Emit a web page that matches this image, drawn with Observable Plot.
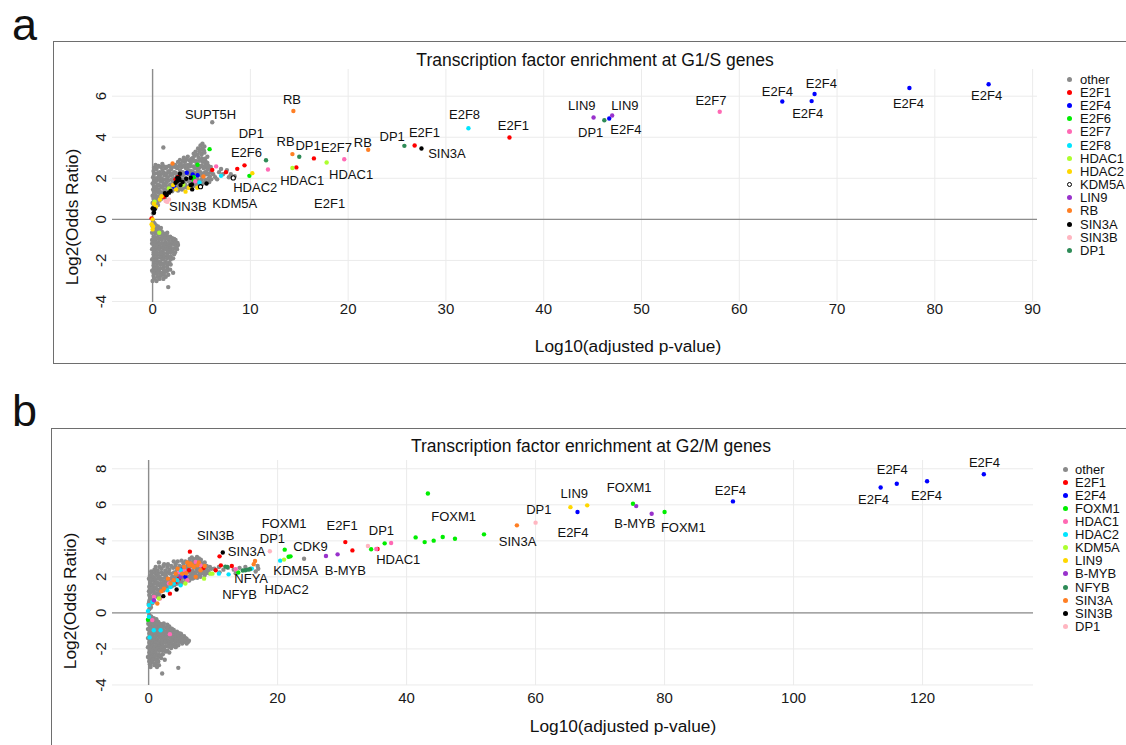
<!DOCTYPE html>
<html><head><meta charset="utf-8">
<script src="https://cdn.jsdelivr.net/npm/d3@7"></script>
<script src="https://cdn.jsdelivr.net/npm/@observablehq/plot@0.6"></script>
<style>
body{margin:0;background:#fff;font-family:"Liberation Sans",Arial,sans-serif;color:#111;}
#root{position:relative;width:1126px;height:745px;overflow:hidden;background:#fff;}
.frame{position:absolute;border:1.5px solid #6e6e6e;}
.plot{position:absolute;}
.letter{position:absolute;font-size:45px;line-height:1.1;}
.title{position:absolute;font-size:17.5px;transform:translate(-50%,-50%);white-space:nowrap;}
.xtitle{position:absolute;font-size:17.3px;transform:translate(-50%,-50%);white-space:nowrap;}
.ytitle{position:absolute;font-size:17.3px;transform:translate(-50%,-50%) rotate(-90deg);white-space:nowrap;}
.legend{position:absolute;font-size:13px;}
.legend .row{display:flex;align-items:center;white-space:nowrap;}
.legend .dot{width:5px;height:5px;border-radius:50%;box-sizing:border-box;flex:none;}
</style></head>
<body><div id="root"></div>
<script>
// ---------- Panel a (G1/S) data ----------
const namesA = ["other","E2F1","E2F4","E2F6","E2F7","E2F8","HDAC1","HDAC2","KDM5A","LIN9","RB","SIN3A","SIN3B","DP1"];
const colorsA = ["#8a8a8a","#ff0000","#0000ff","#00ee00","#ff69b4","#00e5ff","#adff2f","#ffd700","open","#9932cc","#ff7f24","#000000","#ffb6c1","#2e8b57"];
const otherA = [
 [0.05,0.3],[0.15,0.45],[0.3,0.55],[0.1,0.6],[0.4,0.7],[0.25,0.65],[0.55,0.7],
 [0.0,0.8],[0.2,0.75],[0.45,0.85],[0.7,0.92],[0.1,1.0],[0.35,1.0],[0.9,1.0],[0.25,0.9],[0.55,1.0],[0.2,1.05],[0.65,1.05],[1.25,1.05],
 [0.0,1.15],[0.25,1.2],[0.5,1.1],[0.8,1.18],[1.1,1.15],[1.4,1.22],[0.6,1.3],[1.0,1.3],[1.7,1.3],
 [0.15,1.35],[0.45,1.38],[0.75,1.35],[1.35,1.38],[2.0,1.37],[2.6,1.4],[3.0,1.45],
 [0.05,1.45],[0.3,1.5],[0.6,1.45],[0.9,1.55],[1.2,1.45],[1.5,1.5],[1.9,1.42],[2.3,1.48],[2.7,1.5],[3.1,1.52],[3.5,1.55],[4.0,1.58],[4.4,1.62],
 [0.15,1.62],[0.45,1.6],[0.75,1.65],[1.05,1.6],[1.35,1.65],[1.65,1.62],[2.0,1.58],[2.3,1.65],[2.65,1.6],[3.0,1.65],[3.4,1.62],[3.8,1.68],[4.2,1.68],[4.7,1.68],[5.1,1.72],
 [0.0,1.75],[0.25,1.8],[0.55,1.7],[0.85,1.85],[1.15,1.75],[1.45,1.82],[1.8,1.7],[2.1,1.85],[2.5,1.75],[2.9,1.8],[3.3,1.72],[3.7,1.85],[4.1,1.8],[4.5,1.75],[4.9,1.85],[5.3,1.8],[5.8,1.82],
 [0.15,1.92],[0.45,1.9],[0.75,1.95],[1.05,1.9],[1.35,1.95],[1.65,1.9],[1.95,1.95],[2.3,1.92],[2.65,1.9],[3.0,1.95],[3.4,1.92],[3.8,1.95],[4.2,1.9],[4.6,1.92],[5.0,1.95],[5.4,1.92],[5.7,1.98],[6.0,1.95],
 [0.05,2.05],[0.35,2.0],[0.65,2.1],[0.95,2.0],[1.25,2.15],[1.55,2.05],[1.85,2.15],[2.15,2.0],[2.45,2.2],[2.75,2.05],[3.05,2.15],[3.35,2.0],[3.65,2.2],[3.95,2.1],[4.25,2.2],[4.55,2.0],[4.85,2.15],[5.15,2.05],[5.5,2.2],[5.85,2.1],[6.2,2.2],
 [0.2,2.22],[0.5,2.25],[0.85,2.2],[1.15,2.28],[1.45,2.22],[1.75,2.28],[2.05,2.2],[2.35,2.27],[2.65,2.22],[2.95,2.27],[3.25,2.22],[3.55,2.3],[3.85,2.25],[4.15,2.3],[4.45,2.25],[4.75,2.28],[5.05,2.22],[5.35,2.28],[5.65,2.22],[5.95,2.3],
 [0.1,2.35],[0.4,2.45],[0.7,2.3],[1.0,2.4],[1.3,2.5],[1.6,2.35],[1.9,2.45],[2.2,2.3],[2.5,2.5],[2.8,2.4],[3.1,2.3],[3.4,2.5],[3.7,2.4],[4.0,2.35],[4.3,2.5],[4.6,2.4],[4.9,2.3],[5.2,2.5],[5.5,2.35],[5.8,2.45],
 [0.15,2.52],[0.45,2.55],[0.85,2.55],[1.15,2.58],[1.45,2.55],[2.0,2.55],[2.35,2.55],[2.7,2.6],[3.0,2.55],[3.25,2.62],[3.55,2.55],[3.85,2.6],[4.15,2.58],[4.45,2.55],[4.75,2.5],[5.05,2.6],[5.35,2.55],[5.65,2.5],[5.95,2.55],
 [0.3,2.65],[0.6,2.6],[1.0,2.7],[1.7,2.6],[2.3,2.65],[2.6,2.8],[2.9,2.7],[3.3,2.8],[3.6,2.65],[3.9,2.75],[4.2,2.85],[4.5,2.7],[4.8,2.6],[5.1,2.8],[5.4,2.7],[5.7,2.6],
 [2.8,2.9],[3.1,2.85],[3.45,2.9],[3.8,2.88],[4.1,2.98],[4.4,2.85],[4.75,2.85],[5.05,2.95],[5.4,2.85],[5.6,2.75],
 [3.2,3.0],[3.6,3.05],[4.0,2.95],[4.3,3.1],[4.7,3.0],[5.0,3.15],[5.35,2.95],[5.6,3.05],
 [4.2,3.2],[4.6,3.15],[4.65,3.45],[4.95,3.4],[5.25,3.35],[5.0,3.2],
 [4.4,3.3],[4.8,3.3],[5.1,3.45],[5.3,3.25],[4.9,3.6],[5.1,3.68],[5.3,3.55],[1.1,3.5],
 [6.4,2.05],[6.8,2.3],[7.2,2.2],[7.6,2.4],[8.0,2.2],[7.0,2.45],[6.6,1.95],[7.8,2.05],[8.4,2.1],
 [6.1,4.73],
 [0.05,-0.1],[0.2,-0.2],[0.0,-0.35],[0.35,-0.3],[0.15,-0.5],[0.5,-0.45],[0.7,-0.5],[-0.05,-0.65],[0.3,-0.7],[0.6,-0.75],[0.95,-0.6],[1.2,-0.7],
 [0.25,-0.4],[0.55,-0.35],[0.85,-0.42],[0.15,-0.6],[0.45,-0.6],[0.8,-0.62],[0.9,-0.75],[1.5,-0.65],
 [0.1,-0.85],[0.45,-0.9],[0.8,-0.95],[1.1,-0.85],[1.45,-0.8],[1.8,-0.85],[-0.05,-1.0],[0.25,-1.05],[0.6,-1.1],[0.95,-1.0],[1.3,-1.1],[1.65,-1.0],[2.0,-1.05],[2.35,-1.0],[2.55,-1.15],
 [0.28,-0.92],[0.62,-0.92],[0.98,-0.88],[1.3,-0.92],[1.63,-0.88],[2.0,-0.92],[2.2,-0.95],
 [-0.05,-1.17],[0.28,-1.18],[0.62,-1.2],[0.98,-1.17],[1.32,-1.22],[1.68,-1.15],[2.02,-1.18],[2.35,-1.15],[2.6,-1.25],
 [0.1,-1.25],[0.45,-1.3],[0.8,-1.2],[1.15,-1.3],[1.5,-1.25],[1.85,-1.3],[2.2,-1.2],[2.45,-1.35],
 [0.12,-1.38],[0.45,-1.4],[0.8,-1.38],[1.15,-1.42],[1.5,-1.38],[1.85,-1.42],[2.2,-1.4],[2.5,-1.45],
 [-0.05,-1.45],[0.3,-1.5],[0.65,-1.45],[1.0,-1.55],[1.35,-1.45],[1.7,-1.5],[2.05,-1.55],[2.3,-1.6],
 [0.12,-1.6],[0.45,-1.62],[0.8,-1.6],[1.15,-1.65],[1.5,-1.62],[1.85,-1.6],[2.2,-1.7],
 [0.1,-1.7],[0.45,-1.75],[0.8,-1.7],[1.15,-1.8],[1.5,-1.75],[1.85,-1.8],[2.1,-1.9],
 [0.12,-1.85],[0.45,-1.88],[0.8,-1.85],[1.15,-1.9],[1.5,-1.88],[1.85,-1.95],
 [-0.05,-1.95],[0.3,-2.0],[0.65,-2.05],[1.0,-1.95],[1.35,-2.05],[1.7,-2.1],
 [0.12,-2.12],[0.45,-2.15],[0.8,-2.1],[1.15,-2.15],[1.5,-2.2],[1.85,-2.2],
 [0.1,-2.25],[0.45,-2.3],[0.8,-2.2],[1.15,-2.3],[1.5,-2.35],[1.8,-2.45],
 [0.12,-2.4],[0.45,-2.4],[0.8,-2.38],[1.15,-2.45],[1.5,-2.5],
 [-0.05,-2.5],[0.3,-2.55],[0.65,-2.5],[1.0,-2.6],[1.3,-2.55],
 [0.12,-2.62],[0.45,-2.65],[0.8,-2.62],[1.15,-2.7],[1.35,-2.8],
 [0.1,-2.75],[0.5,-2.8],[0.85,-2.75],[1.1,-2.9],[1.6,-2.7],[0.2,-2.88],[0.7,-2.9],[0.0,-3.0],[0.4,-3.0],[1.6,-3.3],[2.1,-2.6]
];
const e2f1A = [[36.5,3.99],[26.8,3.6],[16.5,2.97],[14.7,2.53],[9.4,2.63],[8.66,2.46],[6.1,2.41],[7.5,2.3],[2.35,1.95],[2.6,2.07],[1.16,1.1],[-0.1,0.05]];
const e2f4A = [[85.5,6.58],[77.4,6.4],[67.7,6.11],[67.4,5.76],[64.4,5.74],[46.7,4.91],[3.5,2.27],[4.1,2.19],[4.6,2.15],[2.2,1.59]];
const e2f6A = [[5.83,3.42],[4.6,2.66],[4.2,1.93],[9.9,2.12],[4.2,2.05]];
const e2f7A = [[58.0,5.24],[19.6,2.93],[11.8,2.43],[6.5,2.58],[4.36,1.86]];
const e2f8A = [[32.3,4.44],[7.0,2.12],[4.8,1.8]];
const hdac1A = [[17.8,2.77],[14.3,2.5],[3.14,1.7],[0.2,0.86],[1.67,1.51],[3.03,1.67],[0.68,-0.65]];
const hdac2A = [[10.2,2.25],[2.1,1.67],[2.4,1.46],[3.7,1.54],[0.92,1.13],[0.75,0.97],[0.14,0.76],[0.0,0.0],[-0.1,-0.24],[0.0,-0.49],[4.57,1.54],[3.37,1.35],[0.05,-0.35],[0.35,0.62]];
const kdm5aA = [[8.25,2.02],[4.9,1.59]];
const lin9A = [[45.1,4.96],[47.0,5.06]];
const rbA = [[14.4,5.28],[14.3,3.18],[22.05,3.39],[2.04,2.72],[5.2,2.09]];
const sin3aA = [[27.5,3.45],[2.52,2.03],[2.76,1.91],[3.07,1.82],[3.44,1.98],[4.02,1.7],[5.52,1.75],[1.26,1.28],[1.43,1.18],[1.67,1.3],[0.14,0.32],[0.0,0.53],[2.8,2.22],[2.35,1.78],[2.86,1.67],[3.9,2.03],[1.84,1.38],[3.9,1.67],[4.05,1.46],[0.2,0.49],[2.5,1.86],[2.7,2.0]];
const sin3bA = [[1.33,0.89],[1.67,0.97],[1.5,0.85]];
const dp1A = [[11.6,2.88],[15.0,3.05],[25.75,3.58],[46.2,4.83]];
const pointsA = [otherA,e2f1A,e2f4A,e2f6A,e2f7A,e2f8A,hdac1A,hdac2A,kdm5aA,lin9A,rbA,sin3aA,sin3bA,dp1A];
const labelsA = [["RB",14.25,5.84],["SUPT5H",5.93,5.07],["DP1",10.1,4.17],["E2F6",9.6,3.24],["RB",13.6,3.76],["DP1",15.9,3.57],["E2F7",18.8,3.49],["HDAC1",20.3,2.19],["RB",21.5,3.73],["HDAC1",15.3,1.9],["E2F1",18.1,0.78],["DP1",24.5,4.0],["E2F1",27.8,4.2],["SIN3A",30.1,3.19],["E2F8",31.9,5.1],["HDAC2",10.5,1.54],["KDM5A",8.4,0.76],["SIN3B",3.6,0.6],["E2F1",36.9,4.54],["LIN9",43.9,5.55],["DP1",44.8,4.23],["E2F4",48.4,4.36],["LIN9",48.3,5.51],["E2F7",57.1,5.79],["E2F4",63.9,6.21],["E2F4",68.4,6.6],["E2F4",67.0,5.14],["E2F4",77.3,5.65],["E2F4",85.3,6.0]];
const xTicksA = [0,10,20,30,40,50,60,70,80,90];
const yTicksA = [-4,-2,0,2,4,6];

// ---------- Panel b (G2/M) data ----------
const namesB = ["other","E2F1","E2F4","FOXM1","HDAC1","HDAC2","KDM5A","LIN9","B-MYB","NFYB","SIN3A","SIN3B","DP1"];
const colorsB = ["#8a8a8a","#ff0000","#0000ff","#00ee00","#ff69b4","#00e5ff","#adff2f","#ffd700","#9932cc","#2e8b57","#ff7f24","#000000","#ffb6c1"];
const otherB = [
 [0.1,0.2],[0.3,0.4],[0.6,0.55],[0.0,0.5],[0.35,0.3],
 [0.1,0.65],[0.45,0.7],[0.85,0.65],[0.35,0.9],[0.8,1.0],[1.2,0.95],[1.65,1.0],[0.05,1.2],
 [0.2,0.75],[0.6,0.85],[1.0,0.95],[1.4,0.9],[0.1,1.0],
 [0.3,1.15],[0.8,1.2],[1.3,1.1],[1.8,1.2],[2.3,1.25],[0.5,1.3],
 [0.35,1.3],[0.85,1.35],[1.35,1.3],[1.85,1.35],[2.35,1.38],[2.85,1.38],
 [0.1,1.45],[0.6,1.5],[1.1,1.4],[1.6,1.55],[2.1,1.45],[2.6,1.5],[3.1,1.55],[3.6,1.48],[4.0,1.55],
 [0.35,1.6],[0.85,1.62],[1.35,1.58],[1.85,1.65],[2.35,1.6],[2.85,1.65],[3.35,1.6],[3.85,1.68],[4.35,1.62],[4.8,1.65],[5.0,1.65],
 [0.3,1.75],[0.8,1.8],[1.3,1.7],[1.8,1.85],[2.3,1.75],[2.8,1.8],[3.3,1.7],[3.8,1.85],[4.3,1.75],[4.8,1.8],[5.3,1.7],[5.8,1.85],[6.3,1.8],[6.8,1.9],
 [0.05,1.9],[0.55,1.92],[1.05,1.88],[1.55,1.92],[2.05,1.9],[2.55,1.95],[3.05,1.88],[3.55,1.92],[4.05,1.9],[4.55,1.95],[5.05,1.9],[5.55,1.95],[6.05,1.92],[6.55,1.98],[7.05,1.95],[7.55,1.95],[8.05,2.0],
 [0.2,2.05],[0.7,2.0],[1.2,2.1],[1.7,2.0],[2.2,2.15],[2.7,2.05],[3.2,2.2],[3.7,2.0],[4.2,2.1],[4.7,2.15],[5.2,2.05],[5.7,2.2],[6.2,2.0],[6.7,2.1],[7.2,2.15],[7.7,2.05],[8.2,2.2],[8.7,2.1],
 [0.45,2.2],[0.95,2.22],[1.45,2.18],[1.95,2.25],[2.45,2.2],[2.95,2.25],[3.45,2.18],[3.95,2.25],[4.45,2.2],[4.95,2.25],[5.45,2.18],[5.95,2.25],[6.45,2.2],[6.95,2.25],[7.45,2.28],[7.95,2.18],[8.45,2.25],[8.95,2.22],[9.4,2.2],
 [0.4,2.3],[0.9,2.4],[1.4,2.35],[2.0,2.45],[2.6,2.35],[3.2,2.4],[3.8,2.5],[4.4,2.35],[5.0,2.45],[5.6,2.3],[6.2,2.45],[6.8,2.35],[7.4,2.45],[8.0,2.3],[8.6,2.4],[9.2,2.35],[9.7,2.45],
 [1.1,2.55],[1.7,2.55],[2.3,2.6],[2.9,2.55],[4.1,2.55],[4.7,2.5],[5.3,2.55],[5.9,2.5],[6.5,2.58],[7.1,2.55],[7.7,2.48],[8.3,2.55],[8.9,2.5],[9.5,2.55],
 [1.6,2.8],[3.5,2.6],[4.2,2.7],[4.8,2.6],[5.4,2.75],[6.0,2.65],[6.6,2.8],[7.2,2.7],[7.8,2.6],[8.4,2.7],[9.0,2.6],
 [3.9,2.85],[4.5,2.85],[5.1,2.9],[5.7,2.85],[6.3,2.85],[6.9,2.82],[7.5,2.85],[8.1,2.8],[8.7,2.8],[2.4,2.7],[3.0,2.7],
 [6.4,3.0],[7.0,2.95],[7.5,3.1],[8.1,2.95],[6.7,3.08],[7.3,3.0],[7.8,3.02],
 [10.2,2.45],[10.9,2.55],[11.6,2.4],[12.3,2.5],[13.2,2.4],[14.1,2.5],[15.0,2.55],[15.8,2.45],[16.6,2.3],[16.9,2.6],[17.0,2.45],[11.0,2.25],[13.5,2.2],
 [24.1,3.01],
 [0.1,-0.1],[0.4,-0.2],[0.8,-0.3],[0.0,-0.45],[0.5,-0.5],[1.0,-0.45],[1.5,-0.5],[0.2,-0.7],[0.7,-0.75],[1.2,-0.7],[1.7,-0.75],[2.2,-0.7],[2.7,-0.8],[3.2,-0.75],
 [0.25,-0.3],[0.6,-0.35],[1.2,-0.35],
 [-0.05,-0.6],[0.35,-0.6],[0.85,-0.58],[1.35,-0.6],[1.85,-0.62],[2.35,-0.58],[2.9,-0.65],
 [0.15,-0.82],[0.65,-0.85],[1.15,-0.82],[1.65,-0.85],[2.15,-0.85],[3.0,-0.85],[3.6,-0.88],
 [-0.1,-0.9],[0.4,-0.95],[0.9,-0.9],[1.4,-1.0],[1.9,-0.95],[2.4,-1.0],[2.9,-0.95],[3.4,-1.0],[3.9,-0.95],[4.4,-1.05],
 [0.15,-1.05],[0.65,-1.07],[1.15,-1.05],[1.65,-1.08],[2.15,-1.05],[2.65,-1.1],[3.15,-1.08],[3.65,-1.05],[4.15,-1.1],[4.7,-1.12],[5.0,-1.15],
 [0.1,-1.15],[0.6,-1.2],[1.1,-1.15],[1.6,-1.2],[2.1,-1.15],[2.6,-1.25],[3.1,-1.2],[3.6,-1.15],[4.1,-1.25],[4.6,-1.2],[5.1,-1.25],[5.5,-1.3],
 [0.15,-1.3],[0.65,-1.32],[1.15,-1.3],[1.65,-1.33],[2.15,-1.3],[2.65,-1.35],[3.15,-1.3],[3.65,-1.32],[4.15,-1.35],[4.65,-1.32],[5.15,-1.38],[5.75,-1.4],
 [-0.1,-1.4],[0.4,-1.45],[0.9,-1.4],[1.4,-1.5],[1.9,-1.4],[2.4,-1.45],[2.9,-1.5],[3.4,-1.4],[3.9,-1.45],[4.4,-1.5],[4.9,-1.45],[5.4,-1.5],[5.9,-1.45],[6.25,-1.55],
 [0.15,-1.55],[0.65,-1.57],[1.15,-1.55],[1.65,-1.6],[2.15,-1.55],[2.65,-1.57],[3.15,-1.6],[3.65,-1.55],[4.15,-1.6],[4.65,-1.62],[5.15,-1.58],[5.65,-1.6],[6.1,-1.62],
 [0.1,-1.65],[0.6,-1.7],[1.1,-1.65],[1.6,-1.75],[2.1,-1.7],[2.6,-1.65],[3.1,-1.75],[3.6,-1.7],[4.1,-1.75],[4.6,-1.8],[5.2,-1.7],[5.9,-1.7],
 [0.15,-1.8],[0.65,-1.82],[1.15,-1.8],[1.65,-1.85],[2.15,-1.82],[2.65,-1.85],[3.15,-1.88],[3.65,-1.85],[4.2,-1.9],
 [-0.1,-1.9],[0.4,-1.95],[0.9,-1.9],[1.4,-2.0],[1.9,-1.95],[2.4,-2.0],[2.9,-2.1],[3.5,-1.95],
 [0.15,-2.05],[0.65,-2.08],[1.15,-2.05],[1.65,-2.1],[2.15,-2.1],[2.65,-2.15],[3.2,-2.2],
 [0.1,-2.2],[0.6,-2.25],[1.1,-2.2],[1.6,-2.3],[2.2,-2.3],
 [0.15,-2.35],[0.65,-2.38],[1.15,-2.35],[1.65,-2.4],[1.95,-2.5],
 [-0.1,-2.45],[0.4,-2.5],[0.9,-2.45],[1.4,-2.55],
 [0.15,-2.6],[0.65,-2.6],[1.15,-2.62],[1.5,-2.7],
 [0.1,-2.7],[0.6,-2.75],[1.1,-2.8],[1.6,-2.9],[0.2,-2.85],[0.9,-2.9],[1.3,-3.0],[0.3,-3.0],[2.1,-3.36],[4.6,-3.05],[2.5,-2.6]
];
const e2f1B = [[30.5,3.93],[31.6,3.47],[35.5,3.55],[11.0,3.14],[6.4,3.4],[12.9,2.6],[10.4,2.37],[8.5,2.49],[6.25,2.37],[4.7,1.9],[11.2,2.64],[3.3,1.07],[4.2,1.72]];
const e2f4B = [[129.5,7.7],[120.7,7.31],[116.0,7.17],[113.5,6.96],[90.6,6.19],[66.5,5.6],[5.2,2.4],[5.7,2.0]];
const foxm1B = [[43.3,6.63],[41.4,4.19],[42.8,3.93],[44.2,4.01],[45.6,4.21],[47.5,4.12],[52.0,4.36],[75.1,6.06],[80.0,5.6],[36.6,3.86],[34.5,3.53],[21.1,3.51],[21.7,3.12],[22.0,3.14],[13.9,2.24],[-0.1,-0.38]];
const hdac1B = [[37.6,3.88],[35.3,3.55],[4.7,2.27],[6.0,1.81],[3.15,1.63],[0.83,0.89],[1.75,0.8],[5.5,2.37],[7.3,2.83],[8.06,2.64],[3.3,-1.18],[0.57,-0.4],[13.5,2.42]];
const hdac2B = [[20.4,2.9],[12.4,2.14],[16.0,2.46],[4.96,2.37],[3.4,1.44],[2.9,1.26],[0.57,0.61],[0.05,0.43],[4.45,1.81],[3.9,1.63],[4.96,1.53],[10.9,2.18],[0.05,-0.22],[0.8,-0.96],[1.86,-0.96],[0.15,-1.36],[-0.1,0.1]];
const kdm5aB = [[21.0,2.96],[8.6,1.9],[5.7,1.63],[1.6,0.8],[9.6,2.18],[9.9,2.18]];
const lin9B = [[65.4,5.87],[68.0,5.97]];
const bmybB = [[27.5,3.16],[29.3,3.25],[75.6,5.93],[78.0,5.5],[0.83,0.7],[4.96,2.0]];
const nfybB = [[14.6,2.35],[15.0,2.37],[15.4,2.4],[15.7,2.42],[11.9,2.57],[12.2,2.55]];
const sin3aB = [[57.1,4.86],[16.5,2.88],[6.5,2.74],[6.8,2.64],[7.0,2.55],[7.55,2.64],[5.2,2.18],[3.9,1.81],[2.4,1.35],[3.4,1.63],[8.06,2.37],[7.3,2.0],[6.3,2.64],[4.2,2.18],[1.35,0.52],[5.5,2.55],[6.0,2.8],[4.5,2.45],[3.0,1.9],[2.0,1.2],[7.8,2.8],[5.8,2.2],[8.7,2.6],[16.3,2.7]];
const sin3bB = [[11.5,3.35],[4.34,1.3],[2.28,0.93]];
const dp1B = [[60.0,5.01],[18.8,3.42],[34.0,3.71]];
const pointsB = [otherB,e2f1B,e2f4B,foxm1B,hdac1B,hdac2B,kdm5aB,lin9B,bmybB,nfybB,sin3aB,sin3bB,dp1B];
const labelsB = [["SIN3B",10.4,4.3],["SIN3A",15.2,3.38],["DP1",19.2,4.12],["FOXM1",21.0,4.93],["KDM5A",22.8,2.33],["HDAC2",21.4,1.3],["CDK9",25.1,3.68],["B-MYB",30.5,2.31],["E2F1",30.0,4.86],["DP1",36.1,4.56],["HDAC1",38.7,2.96],["FOXM1",47.3,5.36],["NFYA",15.9,1.87],["NFYB",14.1,0.98],["SIN3A",57.2,3.93],["DP1",60.5,5.73],["LIN9",66.0,6.63],["E2F4",65.8,4.45],["FOXM1",74.5,6.95],["B-MYB",75.4,4.95],["FOXM1",82.9,4.73],["E2F4",90.2,6.78],["E2F4",112.4,6.26],["E2F4",115.3,7.94],["E2F4",120.6,6.48],["E2F4",129.6,8.31]];
const xTicksB = [0,20,40,60,80,100,120];
const yTicksB = [-4,-2,0,2,4,6,8];

// ---------- drawing ----------
const FONT = '"Liberation Sans", Arial, sans-serif';
const root = document.getElementById("root");
function add(cls, text, css) {
  const el = document.createElement("div");
  el.className = cls; if (text != null) el.textContent = text;
  Object.assign(el.style, css); root.appendChild(el); return el;
}
function panel(o) {
  const marks = [
    Plot.gridX(o.xTicks, {stroke: "#ebebeb", strokeOpacity: 1, strokeWidth: 1}),
    Plot.gridY(o.yTicks, {stroke: "#ebebeb", strokeOpacity: 1, strokeWidth: 1}),
    Plot.ruleX([0], {stroke: "#8c8c8c", strokeWidth: 1.4}),
    Plot.ruleY([0], {stroke: "#8c8c8c", strokeWidth: 1.4}),
    Plot.axisX(o.xTicks, {tickSize: 0, tickPadding: o.padX, label: null, fontSize: 15, fill: "#1a1a1a", tickFormat: d => `${d}`}),
    Plot.axisY(o.yTicks, {tickSize: 0, tickRotate: -90, tickPadding: 7, label: null, fontSize: 15, fill: "#1a1a1a", tickFormat: d => `${d}`})
  ];
  o.points.forEach((pts, i) => {
    const c = o.colors[i];
    if (c === "open") marks.push(Plot.dot(pts, {x: d => d[0], y: d => d[1], r: 2.1, fill: "white", stroke: "black", strokeWidth: 1.1}));
    else marks.push(Plot.dot(pts, {x: d => d[0], y: d => d[1], r: 2.2, fill: c}));
  });
  marks.push(Plot.text(o.labels, {x: d => d[1], y: d => d[2], text: d => d[0], fontSize: 13, fill: "#111", fontFamily: FONT}));
  const svg = Plot.plot({
    width: o.width, height: o.height,
    marginLeft: o.ml, marginRight: o.mr, marginTop: o.mt, marginBottom: o.mb,
    style: {fontFamily: FONT, fontSize: "15px", background: "transparent", overflow: "visible"},
    x: {domain: o.xDomain}, y: {domain: o.yDomain},
    marks
  });
  svg.classList.add("plot");
  Object.assign(svg.style, {left: o.left + "px", top: o.top + "px", position: "absolute"});
  root.appendChild(svg);
}
function legend(names, colors, left, top, rowH, gap) {
  const lg = add("legend", null, {left: left + "px", top: top + "px"});
  names.forEach((n, i) => {
    const row = document.createElement("div"); row.className = "row";
    row.style.height = rowH + "px"; row.style.lineHeight = rowH + "px";
    const dot = document.createElement("span"); dot.className = "dot";
    dot.style.marginRight = gap + "px";
    if (colors[i] === "open") { dot.style.background = "#fff"; dot.style.border = "1.1px solid #000"; }
    else dot.style.background = colors[i];
    const t = document.createElement("span"); t.textContent = n;
    row.appendChild(dot); row.appendChild(t); lg.appendChild(row);
  });
}

// frames
add("frame", null, {left: "53px", top: "41px", width: "1100px", height: "321px"});
add("frame", null, {left: "51px", top: "428px", width: "1100px", height: "340px"});
add("letter", "a", {left: "12px", top: "0px"});
add("letter", "b", {left: "12px", top: "386px"});

panel({points: pointsA, colors: colorsA, labels: labelsA, xTicks: xTicksA, yTicks: yTicksA,
  xDomain: [-4.1, 90.5], yDomain: [-4.05, 7.3], width: 1073, height: 321,
  ml: 59, mr: 89, mt: 27, mb: 61, left: 53, top: 42, padX: 1});
panel({points: pointsB, colors: colorsB, labels: labelsB, xTicks: xTicksB, yTicks: yTicksB,
  xDomain: [-5.6, 137.2], yDomain: [-4.03, 8.46], width: 1075, height: 316,
  ml: 61, mr: 93, mt: 31, mb: 60, left: 51, top: 429, padX: 7});

add("title", "Transcription factor enrichment at G1/S genes", {left: "595px", top: "60px"});
add("title", "Transcription factor enrichment at G2/M genes", {left: "591px", top: "446px"});
add("xtitle", "Log10(adjusted p-value)", {left: "628px", top: "346px"});
add("xtitle", "Log10(adjusted p-value)", {left: "623px", top: "726px"});
add("ytitle", "Log2(Odds Ratio)", {left: "72px", top: "217px"});
add("ytitle", "Log2(Odds Ratio)", {left: "70px", top: "601px"});

legend(namesA, colorsA, 1066.5, 72.7, 13.18, 8.5);
legend(namesB, colorsB, 1062.5, 462.7, 13.1, 7.5);
</script>
</body></html>
